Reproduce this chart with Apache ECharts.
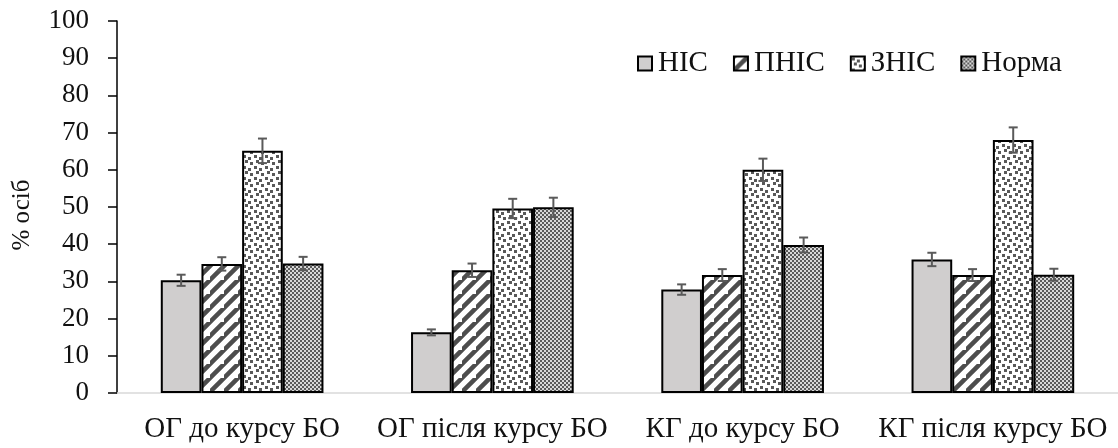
<!DOCTYPE html>
<html>
<head>
<meta charset="utf-8">
<script src="https://cdn.jsdelivr.net/npm/echarts@6/dist/echarts.min.js"></script>
<style>html,body{margin:0;padding:0;background:#fff}#c{width:1118px;height:448px}</style>
</head>
<body>
<div id="c"></div>
<script>
const categories = ['ОГ до курсу БО', 'ОГ після курсу БО', 'КГ до курсу БО', 'КГ після курсу БО'];
const seriesNames = ['НІС', 'ПНІС', 'ЗНІС', 'Норма'];
const nisValues = [30.3, 16.3, 27.8, 35.9];
const pnisValues = [34.7, 33.0, 31.7, 31.7];
const znisValues = [65.1, 49.6, 60.0, 68.0];
const normaValues = [34.8, 49.9, 39.8, 31.8];
const nisErr = [1.5, 0.8, 1.4, 1.8];
const pnisErr = [1.8, 1.8, 1.6, 1.6];
const znisErr = [3.3, 2.6, 3.0, 3.4];
const normaErr = [1.8, 2.6, 2.0, 1.6];
const yTicks = [0, 10, 20, 30, 40, 50, 60, 70, 80, 90, 100];

function tile(w, h, draw) {
  const c = document.createElement('canvas');
  c.width = w; c.height = h;
  const ctx = c.getContext('2d');
  draw(ctx, w, h);
  return { image: c, repeat: 'repeat' };
}
const solidFill = '#d0cece';
const stripeFill = tile(14, 14, (ctx, w, h) => {
  ctx.fillStyle = '#fff'; ctx.fillRect(0, 0, w, h);
  ctx.strokeStyle = '#4d4d4d'; ctx.lineWidth = 4.5;
  ctx.beginPath();
  ctx.moveTo(-2, h + 2); ctx.lineTo(w + 2, -2);
  ctx.moveTo(-2 - w, h + 2); ctx.lineTo(2, -2);
  ctx.moveTo(w - 2, 2 * h + 2); ctx.lineTo(2 * w + 2, h - 2);
  ctx.stroke();
});
const dotFill = tile(11, 11, (ctx, w, h) => {
  ctx.fillStyle = '#fff'; ctx.fillRect(0, 0, w, h);
  ctx.fillStyle = '#595959';
  ctx.fillRect(1, 1, 3, 3);
  ctx.fillRect(6, 3, 3, 3);
  ctx.fillRect(3, 6, 3, 3);
  ctx.fillRect(8, 8, 3, 3);
});
const checkFill = tile(4, 4, (ctx, w, h) => {
  ctx.fillStyle = '#d8d8d8'; ctx.fillRect(0, 0, w, h);
  ctx.fillStyle = '#5a5a5a';
  ctx.fillRect(0, 0, 2, 2);
  ctx.fillRect(2, 2, 2, 2);
  ctx.fillRect(1, 1, 1, 1);
});
const fills = [solidFill, stripeFill, dotFill, checkFill];
const values = [nisValues, pnisValues, znisValues, normaValues];
const errs = [nisErr, pnisErr, znisErr, normaErr];
const catGap = 0.35;

const font = 'Liberation Serif';
const series = [];
values.forEach((vals, i) => {
  series.push({
    name: seriesNames[i], type: 'bar', data: vals,
    barGap: '0%', barCategoryGap: (catGap * 100) + '%',
    itemStyle: { color: fills[i], borderColor: '#000', borderWidth: 2 },
    emphasis: { disabled: true }
  });
});
values.forEach((vals, i) => {
  series.push({
    type: 'custom', z: 5, silent: true,
    data: vals.map((v, k) => [k, v, errs[i][k]]),
    renderItem: function (params, api) {
      const k = api.value(0), v = api.value(1), e = api.value(2);
      const band = api.size([1, 0])[0];
      const groupW = band * (1 - catGap);
      const barW = groupW / 4;
      const cx = api.coord([k, v])[0] - groupW / 2 + barW * (i + 0.5);
      const yTop = api.coord([k, v + e])[1];
      const yBot = api.coord([k, v - e])[1];
      const cap = 4.5;
      const st = { stroke: '#5a5a5a', lineWidth: 2 };
      return { type: 'group', children: [
        { type: 'line', shape: { x1: cx, y1: yTop, x2: cx, y2: yBot }, style: st },
        { type: 'line', shape: { x1: cx - cap, y1: yTop, x2: cx + cap, y2: yTop }, style: st },
        { type: 'line', shape: { x1: cx - cap, y1: yBot, x2: cx + cap, y2: yBot }, style: st }
      ]};
    }
  });
});

const chart = echarts.init(document.getElementById('c'));
chart.setOption({
  animation: false,
  backgroundColor: '#fff',
  textStyle: { fontFamily: font },
  grid: { left: 117, right: -8, top: 21, bottom: 55 },
  legend: {
    data: seriesNames, left: 632, top: 44, icon: 'rect',
    itemWidth: 14, itemHeight: 14, itemGap: 25,
    textStyle: { fontFamily: font, fontSize: 29, color: '#111', padding: [0, 0, 0, 1] },
    itemStyle: { borderColor: '#000', borderWidth: 2 },
    selectedMode: false
  },
  xAxis: {
    type: 'category', data: categories,
    axisLine: { lineStyle: { color: '#d9d9d9', width: 1.5 } },
    axisTick: { show: false },
    axisLabel: { fontFamily: font, fontSize: 29, color: '#111', margin: 22, interval: 0 }
  },
  yAxis: {
    type: 'value', min: 0, max: 100, interval: 10,
    name: '% осіб', nameLocation: 'middle', nameGap: 82,
    nameTextStyle: { fontFamily: font, fontSize: 25, color: '#111', padding: [0, 0, 0, -16] },
    axisLine: { show: true, lineStyle: { color: '#000', width: 1.5 } },
    axisTick: { show: true, length: 9, lineStyle: { color: '#000', width: 1.5 } },
    splitLine: { show: false },
    axisLabel: { fontFamily: font, fontSize: 27, color: '#111', margin: 28,
      formatter: v => yTicks.indexOf(v) >= 0 ? String(v) : '' }
  },
  series: series
});
</script>
</body>
</html>
